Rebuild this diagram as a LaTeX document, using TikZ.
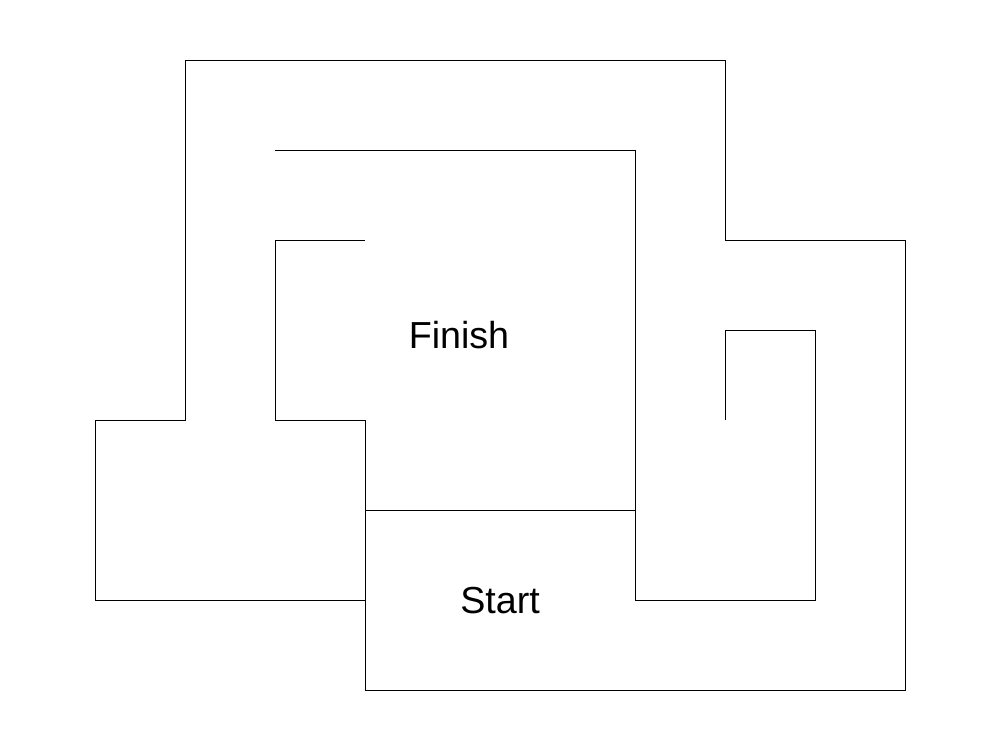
\documentclass[tikz,border=0pt]{standalone}
\usepackage{fontspec}
\setmainfont{Liberation Sans}
\begin{document}
\begin{tikzpicture}[wall/.style={draw=black,line width=0.3pt},lbl/.style={font=\fontsize{11.9}{14}\selectfont,inner sep=0pt}]
            \useasboundingbox (-0.0556,-0.6667) rectangle (11.0556,7.6667);
            \coordinate(a)at(4,1);\coordinate(b)at(3,6);\coordinate(c)at(4,2);\coordinate(d)at(7,2);
            \draw[wall] (a)--(1,1)--(1,3)--(2,3)--(2,7)--(8,7)--(8,5)--(10,5)--(10,0)--(4,0)--(4,3)--(3,3)--(3,5)--(4,5);
            \draw[wall] (b)--(7,6)--(7,1)--(9,1)--(9,4)--(8,4)--(8,3);
            \draw[wall] (c)--(d);
            \node[lbl] (F) at (5.044,3.944) {Finish};
            \node[lbl] (S) at (5.5,0.989) {Start};
            \end{tikzpicture}
\end{document}
